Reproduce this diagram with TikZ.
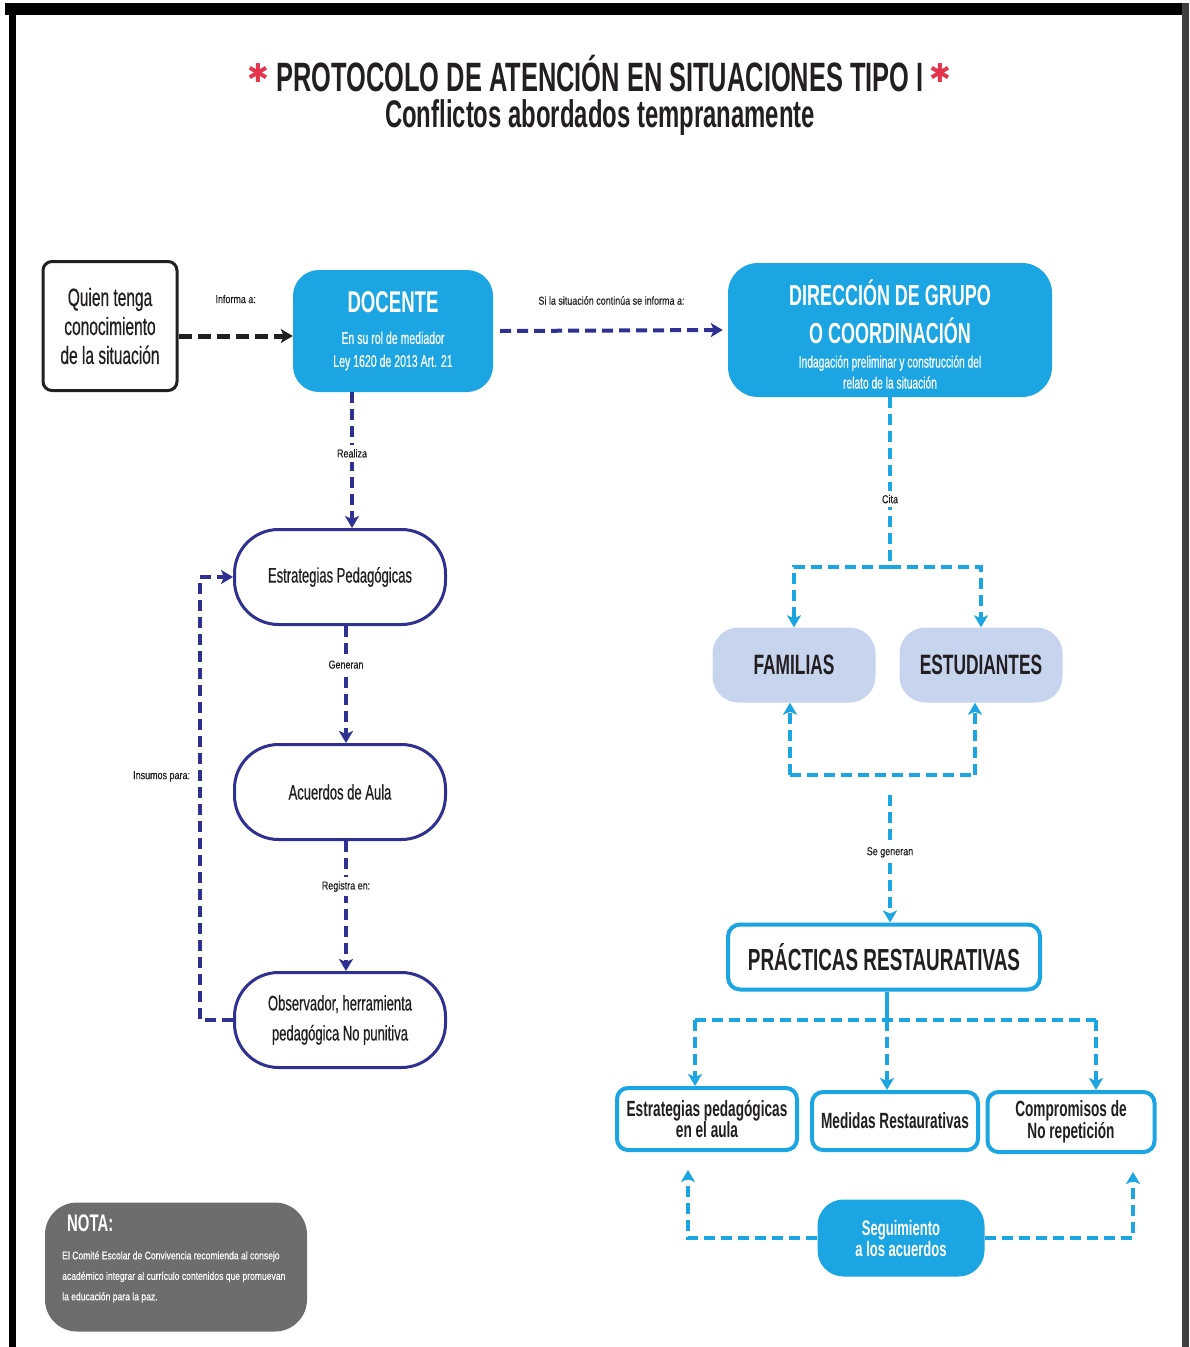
\documentclass[tikz,border=0pt]{standalone}
\usepackage{fontspec}
\setmainfont{Liberation Sans}[FakeStretch=0.62, UprightFeatures={FakeBold=0.5}]
\newfontfamily\lblfont{Liberation Sans}[FakeStretch=0.78, UprightFeatures={FakeBold=0.4}]
\newfontfamily\symfont{DejaVu Sans}
\usetikzlibrary{arrows.meta}

\definecolor{cyanbox}{HTML}{1BA5E2}
\definecolor{navy}{HTML}{2E3192}
\definecolor{lightbox}{HTML}{C6D4EE}
\definecolor{notegray}{HTML}{6B6D6E}
\definecolor{starred}{HTML}{E4344D}
\definecolor{ink}{HTML}{231F20}

\tikzset{
  tip/.style={-{Stealth[length=12pt,width=14pt,inset=3pt]}},
  navyflow/.style={draw=navy, line width=4pt, dash pattern=on 11pt off 6pt},
  cyanflow/.style={draw=cyanbox, line width=4pt, dash pattern=on 11pt off 6pt},
  blackflow/.style={draw=ink, line width=5pt, dash pattern=on 13pt off 6pt},
  lbl/.style={font=\lblfont\fontsize{11.5}{13}\selectfont, text=ink, inner sep=2pt},
  gaplbl/.style={lbl, fill=white, inner ysep=4pt},
  solidbox/.style={fill=cyanbox, inner sep=0pt},
  boxhead/.style={text=white, align=center, inner sep=0pt},
  stagebox/.style={draw=navy, line width=3pt, fill=white, rounded corners=44pt,
    minimum width=211pt, minimum height=95pt, align=center, text=ink,
    font=\fontsize{21}{30}\selectfont},
  partybox/.style={fill=lightbox, rounded corners=26pt, minimum width=163pt,
    minimum height=75pt, text=ink, font=\bfseries\fontsize{28}{30}\selectfont},
  actionbox/.style={draw=cyanbox, line width=4pt, fill=white, rounded corners=11pt,
    align=center, text=ink, inner sep=2pt, font=\bfseries\fontsize{22}{20}\selectfont},
}

\begin{document}
\begin{tikzpicture}[x=1pt, y=-1pt]
\useasboundingbox (0,0) rectangle (1190,1347);

% page frame
\fill[black] (5,3) rectangle (1187,15);
\fill[black] (9,3) rectangle (16,1347);
\fill[black!75] (1182,3) rectangle (1189,1347);

% heading
\node[font=\bfseries\fontsize{41}{44}\selectfont, text=ink] (title) at (600,74)
  {PROTOCOLO DE ATENCIÓN EN SITUACIONES TIPO I};
\node[text=starred, font=\symfont\bfseries\fontsize{26}{28}\selectfont] (starL) at (258,73) {✱};
\node[text=starred, font=\symfont\bfseries\fontsize{26}{28}\selectfont] (starR) at (940,73) {✱};
\node[font=\bfseries\fontsize{38.5}{40}\selectfont, text=ink] (subtitle) at (600,118)
  {Conflictos abordados tempranamente};

% first report chain
\node[draw=ink, line width=3pt, rounded corners=9pt, fill=white, minimum width=134pt,
  minimum height=129pt, align=center, text=ink, inner sep=0pt,
  font=\fontsize{25}{29}\selectfont] (who) at (110,326)
  {Quien tenga\\conocimiento\\de la situación};

\node[solidbox, rounded corners=26pt, minimum width=200pt, minimum height=122pt] (doc) at (393,331) {};
\node[boxhead, font=\bfseries\fontsize{30}{34}\selectfont] (doctitle) at (393,302) {DOCENTE};
\node[boxhead, font=\fontsize{17}{23}\selectfont] (docnote) at (393,351)
  {En su rol de mediador\\Ley 1620 de 2013 Art. 21};

\node[solidbox, rounded corners=30pt, minimum width=324pt, minimum height=134pt] (dir) at (890,330) {};
\node[boxhead, font=\bfseries\fontsize{29}{38}\selectfont] (dirtitle) at (890,312)
  {DIRECCIÓN DE GRUPO\\O COORDINACIÓN};
\node[boxhead, font=\fontsize{16.5}{21}\selectfont] (dirnote) at (890,372)
  {Indagación preliminar y construcción del\\relato de la situación};

% classroom track
\node[stagebox] (est) at (340,577) {Estrategias Pedagógicas};
\node[stagebox] (acu) at (340,792) {Acuerdos de Aula};
\node[stagebox] (obs) at (340,1020) {Observador, herramienta\\pedagógica No punitiva};

% people involved
\node[partybox] (fam) at (794,665) {FAMILIAS};
\node[partybox] (stu) at (981,665) {ESTUDIANTES};

% restorative practices
\node[draw=cyanbox, line width=4pt, fill=white, rounded corners=12pt, minimum width=312pt,
  minimum height=65pt, text=ink, font=\bfseries\fontsize{30.5}{32}\selectfont] (prac) at (884,957)
  {PRÁCTICAS RESTAURATIVAS};

\node[actionbox, minimum width=180pt, minimum height=62pt] (act1) at (707,1119)
  {Estrategias pedagógicas\\en el aula};
\node[actionbox, minimum width=166pt, minimum height=58pt] (act2) at (895,1121)
  {Medidas Restaurativas};
\node[actionbox, minimum width=167pt, minimum height=60pt] (act3) at (1071,1122)
  {Compromisos de\\No repetición};

\node[solidbox, rounded corners=26pt, minimum width=167pt, minimum height=77pt] (follow) at (901,1238) {};
\node[boxhead, font=\bfseries\fontsize{21}{21}\selectfont] (followtext) at (901,1238)
  {Seguimiento\\a los acuerdos};

% note
\node[fill=notegray, rounded corners=32pt, minimum width=262pt, minimum height=129pt] (note) at (176,1267) {};
\node[anchor=north west, text=white, font=\bfseries\fontsize{24}{26}\selectfont, inner sep=0pt]
  (notehead) at (67,1215) {NOTA:};
\node[anchor=north west, text=white, align=left, inner sep=0pt,
  font=\lblfont\fontsize{11}{20.5}\selectfont] (notebody) at (62,1251)
  {El Comité Escolar de Convivencia recomienda al consejo\\
   académico integrar al currículo contenidos que promuevan\\
   la educación para la paz.};

% connectors: left side
\draw[blackflow, tip] ([yshift=-10pt]who.east) -- ([yshift=-10pt]who.east -| doc.west)
  node[lbl, midway, yshift=37pt] {Informa a:};
\draw[navyflow, tip] ([xshift=7pt]doc.east) -- ([xshift=-5pt]dir.west)
  node[lbl, midway, yshift=30pt] {Si la situación continúa se informa a:};
\draw[navyflow, tip] ([xshift=-41pt]doc.south) -- ([xshift=-41pt]doc.south |- est.north)
  node[gaplbl, pos=0.45] {Realiza};
\draw[navyflow, tip] ([xshift=6pt]est.south) -- ([xshift=6pt]acu.north)
  node[gaplbl, pos=0.33] {Generan};
\draw[navyflow, tip] ([xshift=6pt]acu.south) -- ([xshift=6pt]obs.north)
  node[gaplbl, pos=0.35] {Registra en:};
\coordinate (rail) at (200,0);
\draw[navyflow, tip] (obs.west) -- (obs.west -| rail) -- (est.west -| rail)
  node[lbl, pos=0.55, anchor=east, xshift=-6pt] {Insumos para:} -- (est.west);

% connectors: right side
\coordinate (split) at (0,567);
\draw[cyanflow] (dir.south) -- (dir.south |- split) node[gaplbl, pos=0.6] {Cita};
\draw[cyanflow, tip] (dir.south |- split) -| (fam.north);
\draw[cyanflow, tip] (dir.south |- split) -| (stu.north);

\coordinate (merge) at (0,775);
\draw[cyanflow] ([xshift=-4pt]fam.south |- merge) -- ([xshift=-6pt]stu.south |- merge);
\draw[cyanflow, tip] ([xshift=-4pt]fam.south |- merge) -- ([xshift=-4pt]fam.south);
\draw[cyanflow, tip] ([xshift=-6pt]stu.south |- merge) -- ([xshift=-6pt]stu.south);
\coordinate (gen) at (890,795);
\draw[cyanflow, tip] (gen) -- (gen |- prac.north) node[gaplbl, pos=0.45] {Se generan};

\coordinate (fan) at (0,1020);
\draw[draw=cyanbox, line width=4pt] ([xshift=3pt]prac.south) -- ([xshift=3pt]prac.south |- fan);
\draw[cyanflow] ([xshift=-12pt]act1.north |- fan) -- ([xshift=25pt]act3.north |- fan);
\draw[cyanflow, tip] ([xshift=-12pt]act1.north |- fan) -- ([xshift=-12pt]act1.north);
\draw[cyanflow, tip] ([xshift=-8pt]act2.north |- fan) -- ([xshift=-8pt]act2.north);
\draw[cyanflow, tip] ([xshift=25pt]act3.north |- fan) -- ([xshift=25pt]act3.north);

\draw[cyanflow, tip, shorten >=18pt] (follow.west) -| ([xshift=-19pt]act1.south);
\draw[cyanflow, tip, shorten >=18pt] (follow.east) -| ([xshift=62pt]act3.south);
\end{tikzpicture}
\end{document}
